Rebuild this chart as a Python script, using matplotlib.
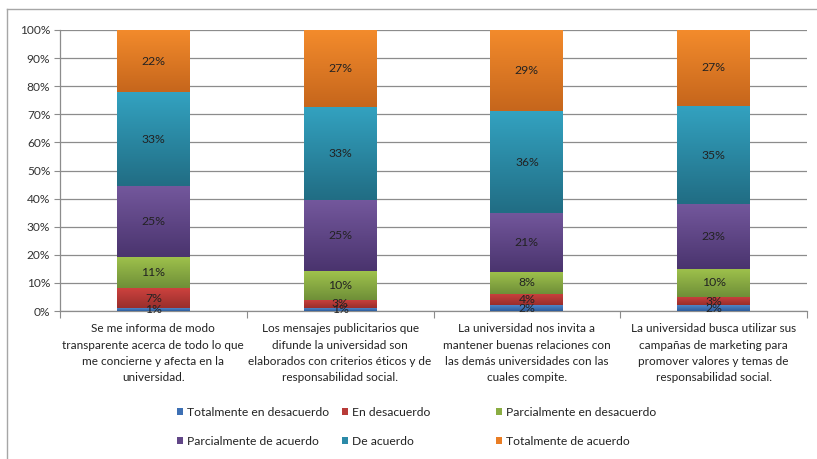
import numpy as np
import matplotlib
matplotlib.use("Agg")
import matplotlib.pyplot as plt
from matplotlib.colors import LinearSegmentedColormap
from matplotlib.patches import Patch
from matplotlib.lines import Line2D

categories = [
    "Se me informa de modo\ntransparente acerca de todo lo que\nme concierne y afecta en la\nuniversidad.",
    "Los mensajes publicitarios que\ndifunde la universidad son\nelaborados con criterios éticos y de\nresponsabilidad social.",
    "La universidad nos invita a\nmantener buenas relaciones con\nlas demás universidades con las\ncuales compite.",
    "La universidad busca utilizar sus\ncampañas de marketing para\npromover valores y temas de\nresponsabilidad social.",
]
series_names = [
    "Totalmente en desacuerdo",
    "En desacuerdo",
    "Parcialmente en desacuerdo",
    "Parcialmente de acuerdo",
    "De acuerdo",
    "Totalmente de acuerdo",
]
totalmente_desacuerdo = [1, 1, 2, 2]
en_desacuerdo = [7, 3, 4, 3]
parcial_desacuerdo = [11, 10, 8, 10]
parcial_acuerdo = [25, 25, 21, 23]
de_acuerdo = [33, 33, 36, 35]
totalmente_acuerdo = [22, 27, 29, 27]
y_ticks = [0, 10, 20, 30, 40, 50, 60, 70, 80, 90, 100]

series = [totalmente_desacuerdo, en_desacuerdo, parcial_desacuerdo,
          parcial_acuerdo, de_acuerdo, totalmente_acuerdo]

# (light top, dark bottom, legend colour)
colors = [
    ("#4f86c8", "#2d5c9c", "#3d70b4"),
    ("#cc423e", "#992e2c", "#b83b38"),
    ("#9fc24c", "#6f8f38", "#8aad42"),
    ("#73579c", "#4a346e", "#614687"),
    ("#33a2c0", "#216d84", "#2b8aa8"),
    ("#f38b2c", "#c6661c", "#e97d24"),
]

plt.rcParams['font.family'] = ['Lato', 'DejaVu Sans']

W, H = 817, 459
fig = plt.figure(figsize=(W / 100, H / 100), dpi=100)
ax = fig.add_axes([60 / W, 1 - 311 / H, (807 - 60) / W, (311 - 30) / H])

data = np.array(series, dtype=float)
totals = data.sum(axis=0)
pct = data / totals * 100
x = np.arange(len(categories))
bottom = np.zeros(len(categories))
bar_w = 0.39

grad = np.linspace(0, 1, 64).reshape(-1, 1)
for i, name in enumerate(series_names):
    light, dark, mid = colors[i]
    bars = ax.bar(x, pct[i], bar_w, bottom=bottom, color=mid, zorder=3,
                  linewidth=0, label=name)
    cmap = LinearSegmentedColormap.from_list("g%d" % i, [dark, light])
    for rect in bars:
        rx, ry = rect.get_x(), rect.get_y()
        rw, rh = rect.get_width(), rect.get_height()
        im = ax.imshow(grad, extent=[rx, rx + rw, ry, ry + rh], origin='lower',
                       aspect='auto', cmap=cmap, zorder=3.5, interpolation='bilinear')
        im.set_clip_path(rect)
    for j in range(len(categories)):
        ax.text(x[j], bottom[j] + pct[i][j] / 2, "%d%%" % data[i][j],
                ha='center', va='center', fontsize=8.8, color='#222222', zorder=5)
    bottom += pct[i]

ax.set_xlim(-0.5, len(categories) - 0.5)
ax.set_ylim(0, 100)
ax.set_yticks(y_ticks)
ax.set_yticklabels(["%d%%" % v for v in y_ticks], fontsize=8.6, color='#333333')
ax.yaxis.grid(True, color='#8c8c8c', linewidth=0.9, zorder=0)
ax.set_axisbelow(True)
ax.tick_params(axis='y', length=4, width=0.8, color='#8c8c8c', pad=3)

ax.set_xticks(x)
ax.set_xticklabels(categories, fontsize=8.5, color='#222222', linespacing=1.58)
ax.tick_params(axis='x', which='major', length=0, pad=9)
ax.set_xticks(np.arange(-0.5, len(categories), 1.0), minor=True)
ax.tick_params(axis='x', which='minor', length=5, width=0.8, color='#8c8c8c')

for s in ['top', 'right']:
    ax.spines[s].set_visible(False)
for s in ['left', 'bottom']:
    ax.spines[s].set_color('#8c8c8c')
    ax.spines[s].set_linewidth(0.9)

# legend as three columns
col_x = [177, 342, 496]
for c in range(3):
    handles = []
    for r in range(2):
        idx = c + 3 * r
        handles.append(Patch(facecolor=colors[idx][2], edgecolor='none',
                             label=series_names[idx]))
    fig.legend(handles=handles, loc='upper left',
               bbox_to_anchor=(col_x[c] / W, 1 - 407 / H),
               frameon=False, fontsize=8.7, handlelength=0.5, handleheight=0.5,
               handletextpad=0.35, labelspacing=1.45, borderaxespad=0,
               borderpad=0, labelcolor='#222222')

# outer frame
fig.add_artist(Line2D([7 / W, 7 / W], [0, 1 - 9 / H], transform=fig.transFigure,
                      color='#a6a6a6', linewidth=1))
fig.add_artist(Line2D([7 / W, 1], [1 - 9 / H, 1 - 9 / H], transform=fig.transFigure,
                      color='#a6a6a6', linewidth=1))

fig.savefig("out.png", dpi=100)
